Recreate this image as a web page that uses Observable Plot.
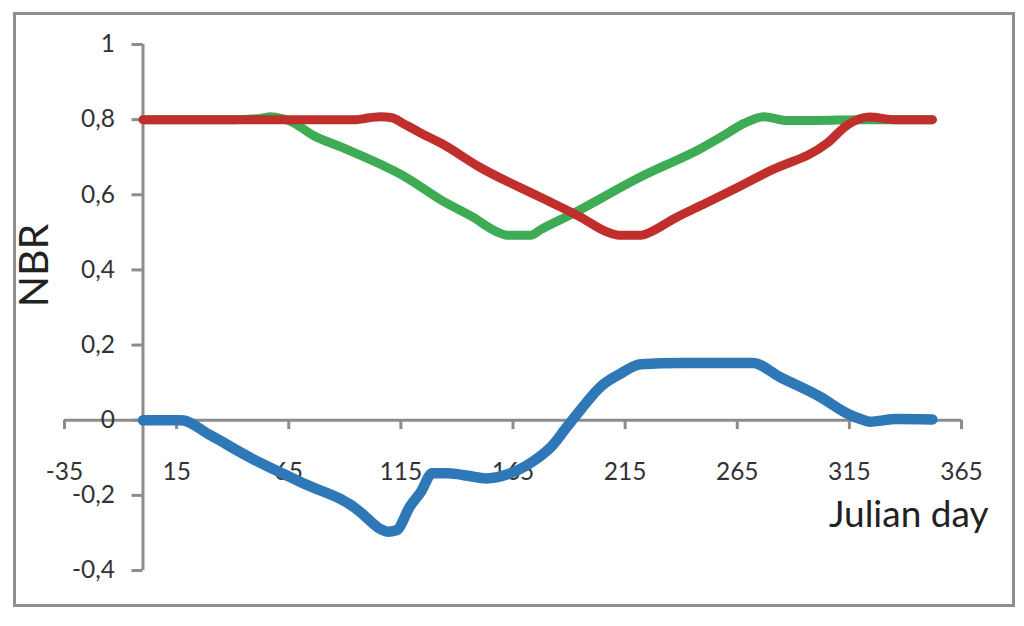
<!DOCTYPE html>
<html>
<head>
<meta charset="utf-8">
<script src="https://cdn.jsdelivr.net/npm/d3@7"></script>
<script src="https://cdn.jsdelivr.net/npm/@observablehq/plot@0.6"></script>
<style>
  html, body { margin: 0; padding: 0; background: #fff; }
  #chart { width: 1024px; height: 626px; }
</style>
</head>
<body>
<div id="chart"></div>
<script>
// Tick values and labels
const xTicks = [-35, 15, 65, 115, 165, 215, 265, 315, 365];
const yTicks = [-0.4, -0.2, 0, 0.2, 0.4, 0.6, 0.8, 1];
const yTickLabels = ["-0,4", "-0,2", "0", "0,2", "0,4", "0,6", "0,8", "1"];

// Red series
const redDay = [0, 40, 80, 95, 101, 106, 111, 116, 124, 133, 150, 177, 195, 207, 213, 222, 226, 237, 249, 266, 279, 305, 314, 320, 324, 335, 352];
const redNBR = [0.80, 0.80, 0.80, 0.80, 0.805, 0.808, 0.805, 0.79, 0.764, 0.737, 0.674, 0.594, 0.541, 0.501, 0.492, 0.492, 0.50, 0.537, 0.572, 0.622, 0.662, 0.737, 0.785, 0.803, 0.807, 0.80, 0.80];

// Green series
const greenDay = [0, 40, 52, 57, 62, 66, 76, 88, 118, 133, 147, 158, 163, 173, 177, 192, 222, 249, 259, 268, 277, 287, 300, 320, 352];
const greenNBR = [0.80, 0.80, 0.803, 0.808, 0.803, 0.795, 0.758, 0.728, 0.644, 0.586, 0.541, 0.501, 0.492, 0.492, 0.506, 0.551, 0.648, 0.724, 0.758, 0.79, 0.808, 0.798, 0.798, 0.80, 0.80];

// Blue series
const blueDay = [0, 10, 17, 30, 48, 70, 97, 100, 106, 109, 113, 119, 124, 129, 136, 145, 153, 164, 176, 182, 189, 195, 204, 213, 222, 240, 260, 272, 284, 302, 314, 320, 324, 336, 352];
const blueNBR = [0, 0, 0, -0.04, -0.10, -0.164, -0.245, -0.261, -0.29, -0.297, -0.293, -0.23, -0.19, -0.141, -0.141, -0.148, -0.155, -0.141, -0.101, -0.071, -0.018, 0.027, 0.089, 0.124, 0.149, 0.152, 0.152, 0.152, 0.115, 0.062, 0.018, 0.003, -0.004, 0.003, 0.002];

const toRows = (days, vals) => days.map((d, i) => ({day: d, nbr: vals[i]}));
const red = toRows(redDay, redNBR);
const green = toRows(greenDay, greenNBR);
const blue = toRows(blueDay, blueNBR);

const axisColor = "#8c8c8c";
const textColor = "#333333";

const chart = Plot.plot({
  width: 1024,
  height: 626,
  marginLeft: 64,
  marginRight: 63,
  marginTop: 44,
  marginBottom: 56,
  style: {fontFamily: "Lato, 'Open Sans', sans-serif", background: "#fff", overflow: "visible"},
  x: {domain: [-35, 365], axis: null},
  y: {domain: [-0.4, 1], axis: null},
  marks: [
    Plot.frame({stroke: "#8e8e8e", strokeWidth: 3, insetLeft: -50, insetTop: -31, insetRight: -52, insetBottom: -35}),
    // axes lines
    Plot.ruleX([0], {y1: -0.4, y2: 1, stroke: axisColor, strokeWidth: 3}),
    Plot.ruleY([0], {x1: -35, x2: 365, stroke: axisColor, strokeWidth: 3}),
    // y ticks
    Plot.ruleY(yTicks, {x1: -4.9, x2: 0, stroke: axisColor, strokeWidth: 3}),
    Plot.text(yTicks, {x: 0, y: d => d, text: (d, i) => yTickLabels[i], dx: -28, textAnchor: "end", fontSize: 24.5, fill: textColor}),
    // x ticks
    Plot.ruleX(xTicks, {y1: 0, y2: -0.025, stroke: axisColor, strokeWidth: 3}),
    Plot.text(xTicks, {x: d => d, y: 0, text: d => String(d), dy: 52, fontSize: 24.5, fill: textColor}),
    // series
    Plot.line(blue, {x: "day", y: "nbr", stroke: "#2e78b8", strokeWidth: 10.5, curve: "monotone-x"}),
    Plot.line(green, {x: "day", y: "nbr", stroke: "#3dac55", strokeWidth: 9, curve: "monotone-x"}),
    Plot.line(red, {x: "day", y: "nbr", stroke: "#c02f2c", strokeWidth: 9, curve: "monotone-x"}),
    // axis titles
    Plot.text(["NBR"], {frameAnchor: "left", textAnchor: "middle", lineAnchor: "middle", rotate: -90, dx: -30, dy: -42, fontSize: 41, fill: "#222"}),
    Plot.text(["Julian day"], {frameAnchor: "bottom-right", textAnchor: "end", lineAnchor: "bottom", dx: 27, dy: -44, fontSize: 37, fill: "#222"})
  ]
});
document.getElementById("chart").appendChild(chart);
</script>
</body>
</html>
